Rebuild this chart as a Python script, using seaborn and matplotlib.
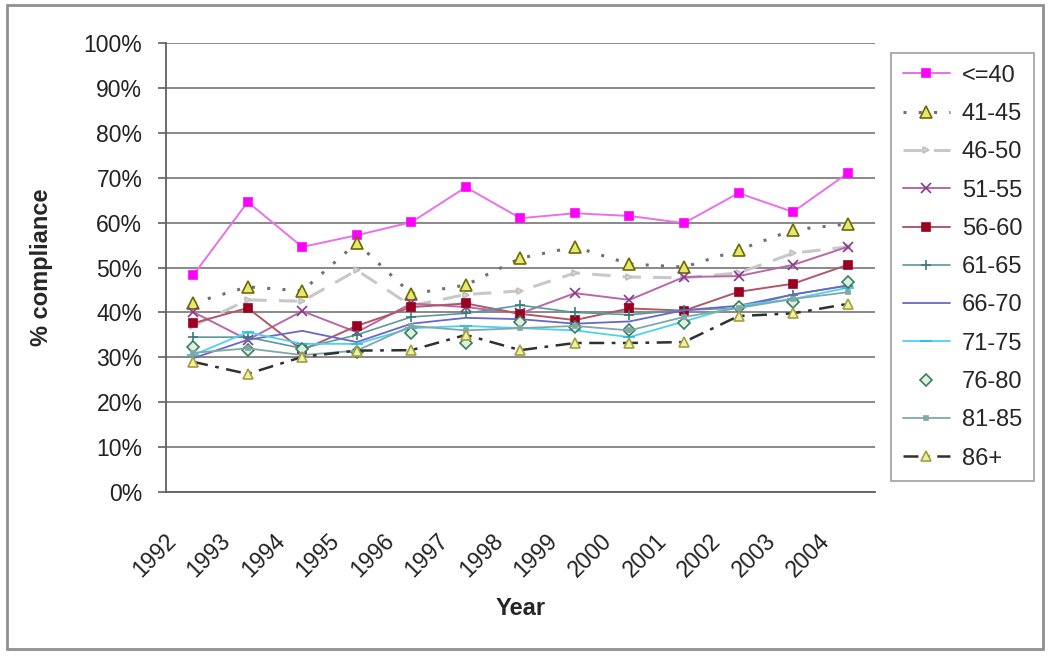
import numpy as np
import pandas as pd
import seaborn as sns
import matplotlib.pyplot as plt
import matplotlib.patches as patches
from matplotlib.transforms import ScaledTranslation

# Datos: % de cumplimiento por grupo de edad
years = list(range(1992, 2005))
groups = ['<=40', '41-45', '46-50', '51-55', '56-60', '61-65',
          '66-70', '71-75', '76-80', '81-85', '86+']

le40 = [48.3, 64.6, 54.6, 57.2, 60.1, 67.9, 61.0, 62.1, 61.5, 59.9, 66.6, 62.4, 71.0]
g41_45 = [42.1, 45.7, 44.8, 55.5, 44.1, 46.1, 52.1, 54.6, 50.8, 50.1, 53.9, 58.4, 59.7]
g46_50 = [37.0, 42.8, 42.5, 49.4, 41.5, 44.0, 44.8, 48.8, 47.9, 47.7, 48.8, 53.2, 54.6]
g51_55 = [40.1, 33.9, 40.3, 35.6, 42.0, 41.2, 39.8, 44.3, 42.8, 47.9, 48.1, 50.6, 54.6]
g56_60 = [37.6, 41.0, 31.6, 37.0, 41.2, 42.0, 39.7, 38.3, 40.9, 40.4, 44.6, 46.4, 50.6]
g61_65 = [34.5, 34.5, 32.0, 35.0, 39.0, 39.8, 41.6, 40.0, 39.5, 40.5, 41.0, 44.0, 46.0]
g66_70 = [29.8, 33.9, 35.9, 33.4, 37.5, 38.8, 38.5, 37.5, 38.0, 40.5, 41.5, 44.0, 46.0]
g71_75 = [30.5, 35.6, 33.0, 33.0, 36.5, 37.0, 36.5, 36.0, 34.5, 38.0, 41.5, 43.0, 45.5]
g76_80 = [32.3, 31.6, 31.8, 31.2, 35.4, 33.2, 37.9, 36.8, 36.1, 37.6, 41.2, 42.3, 46.8]
g81_85 = [31.0, 32.0, 30.5, 31.5, 37.0, 36.0, 36.5, 37.0, 36.0, 39.0, 41.0, 43.0, 44.5]
g86 = [29.0, 26.3, 30.1, 31.5, 31.6, 35.0, 31.6, 33.2, 33.2, 33.4, 39.2, 39.8, 41.9]

series = [le40, g41_45, g46_50, g51_55, g56_60, g61_65,
          g66_70, g71_75, g76_80, g81_85, g86]

df = pd.DataFrame({'Year': years * len(groups),
                   'group': np.repeat(groups, len(years)),
                   'value': np.concatenate(series)})

# estilo de cada serie (tipo Excel)
styles = {
    '<=40': dict(color='#e870e8', ls='-', lw=1.4, marker='s', ms=6, mfc='#ff00ff', mec='#ff00ff'),
    '41-45': dict(color='#707070', ls=(0, (1, 4)), lw=2.2, marker='^', ms=8, mfc='#e8e870', mec='#6b6b00'),
    '46-50': dict(color='#c8c8c8', ls=(0, (6, 4)), lw=2.2, marker='>', ms=5, mfc='#d8d8d8', mec='#c0c0c0'),
    '51-55': dict(color='#b868a8', ls='-', lw=1.4, marker='x', ms=7, mfc='#8a3a8a', mec='#8a3a8a'),
    '56-60': dict(color='#b05868', ls='-', lw=1.4, marker='s', ms=6, mfc='#9a0020', mec='#9a0020'),
    '61-65': dict(color='#5a9a9a', ls='-', lw=1.2, marker='+', ms=7, mfc='#3a7a7a', mec='#3a7a7a'),
    '66-70': dict(color='#6868c8', ls='-', lw=1.3, marker=None, ms=0, mfc='none', mec='none'),
    '71-75': dict(color='#50d0f0', ls='-', lw=1.3, marker='_', ms=9, mfc='#20c0e8', mec='#20c0e8'),
    '76-80': dict(color='#3a8060', ls='none', lw=0, marker='D', ms=6, mfc='#e0f0e0', mec='#3a8060'),
    '81-85': dict(color='#80a8a8', ls='-', lw=1.3, marker='s', ms=3, mfc='#80a8a8', mec='#80a8a8'),
    '86+': dict(color='#303030', ls=(0, (6, 3, 1.5, 3)), lw=1.8, marker='^', ms=7, mfc='#f0f0a0', mec='#a0a040'),
}

sns.set_style('white')
plt.rcParams['font.family'] = ['Liberation Sans', 'DejaVu Sans']

fig = plt.figure(figsize=(10.5, 6.61), dpi=100)
ax = fig.add_axes([0.158, 0.2557, 0.6752, 0.679])

for g in groups:
    st = styles[g]
    sns.lineplot(data=df[df['group'] == g], x='Year', y='value', ax=ax,
                 color=st['color'], linestyle=st['ls'], linewidth=st['lw'],
                 marker=st['marker'], markersize=st['ms'],
                 markerfacecolor=st['mfc'], markeredgecolor=st['mec'],
                 markeredgewidth=1.2, label=g)

ax.set_xlim(1991.5, 2004.5)
ax.set_ylim(0, 100)
ax.set_yticks(np.arange(0, 101, 10))
ax.set_yticklabels([f'{v}%' for v in range(0, 101, 10)], fontsize=16.5, color='#222222')
ax.yaxis.grid(True, color='#808080', lw=1.3)
ax.set_axisbelow(True)

ax.set_xticks(years)
ax.set_xticklabels([str(y) for y in years], fontsize=16.5, color='#222222',
                   rotation=45, ha='right', va='center', rotation_mode='anchor')
ax.set_xticks(np.arange(1991.5, 2005), minor=True)
ax.tick_params(axis='x', which='major', length=0, pad=33)
ax.tick_params(axis='x', which='minor', length=6, width=1.2, color='#606060', direction='out')
ax.tick_params(axis='y', length=6, width=1.2, color='#606060', direction='out', left=True, pad=11)
off = ScaledTranslation(-21 / 100, 0, fig.dpi_scale_trans)
for lab in ax.get_xticklabels():
    lab.set_transform(lab.get_transform() + off)

for s in ['top', 'right']:
    ax.spines[s].set_visible(False)
for s in ['left', 'bottom']:
    ax.spines[s].set_color('#606060')
    ax.spines[s].set_linewidth(1.3)

ax.set_xlabel('Year', fontsize=17, fontweight='bold')
ax.set_ylabel('% compliance', fontsize=17, fontweight='bold')
ax.xaxis.set_label_coords(0.5, -(597 - 492) / 449)
ax.yaxis.set_label_coords(-(166 - 53) / 709, 0.5)

leg = ax.legend(loc='upper left', bbox_to_anchor=(0.8486, 0.92),
                bbox_transform=fig.transFigure, fontsize=17, frameon=True,
                fancybox=False, edgecolor='#909090', labelspacing=0.69,
                handlelength=2.0, handletextpad=0.5, borderpad=0.5,
                borderaxespad=0)
leg.get_frame().set_linewidth(1.3)

# marco exterior del gráfico
fig.patches.append(patches.Rectangle((7 / 1050, 1 - 649 / 661), 1036 / 1050, 644 / 661,
                                     transform=fig.transFigure, fill=False,
                                     edgecolor='#909090', lw=2))

plt.savefig('out.png', dpi=100)
